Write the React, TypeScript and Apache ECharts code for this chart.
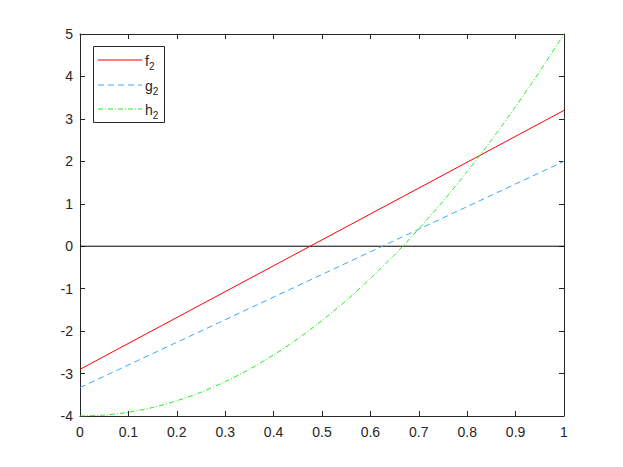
import React, { useEffect, useRef } from "react";
import * as echarts from "echarts";

const xTicks = [0, 0.1, 0.2, 0.3, 0.4, 0.5, 0.6, 0.7, 0.8, 0.9, 1];
const fX = [0, 1];
const fY = [-2.9, 3.2];
const gX = [0, 1];
const gY = [-3.33, 2.0];
const hX = [0, 0.05, 0.1, 0.15, 0.2, 0.25, 0.3, 0.35, 0.4, 0.45, 0.5, 0.55, 0.6, 0.65, 0.7, 0.75, 0.8, 0.85, 0.9, 0.95, 1];
const hY = [-4, -3.98, -3.91, -3.8, -3.64, -3.44, -3.19, -2.9, -2.56, -2.18, -1.75, -1.28, -0.76, -0.2, 0.41, 1.06, 1.76, 2.5, 3.29, 4.12, 5];
const zeroX = [0, 1];
const zeroY = [0, 0];
const seriesNames = ["f", "g", "h"];
const seriesColors = ["#ff0000", "#3ba8ff", "#22ee22"];

const AX = "#262626";
const FONT = "Liberation Sans";

function pairs(xs: number[], ys: number[]) {
  return xs.map((x, i) => [x, ys[i]]);
}

export default function App() {
  const ref = useRef<HTMLDivElement>(null);
  useEffect(() => {
    if (!ref.current) return;
    const chart = echarts.init(ref.current, undefined, { renderer: "svg" });
    const axisCommon = {
      axisLine: { show: true, onZero: false, lineStyle: { color: AX, width: 1 } },
      axisTick: { show: true, inside: true, length: 5, lineStyle: { color: AX } },
      splitLine: { show: false },
    };
    const dashes: any[] = ["solid", [6, 4], [5, 2, 1, 2]];
    const legendY = [60, 85, 109];
    const legendGraphics: any[] = [
      {
        type: "rect",
        shape: { x: 93.5, y: 46.5, width: 71, height: 76 },
        style: { fill: "#fff", stroke: AX, lineWidth: 1 },
        z: 100,
      },
    ];
    seriesNames.forEach((n, i) => {
      legendGraphics.push({
        type: "line",
        shape: { x1: 98, y1: legendY[i], x2: 142, y2: legendY[i] },
        style: { stroke: seriesColors[i], lineWidth: 1, lineDash: dashes[i] === "solid" ? null : dashes[i] },
        z: 101,
      });
      legendGraphics.push({
        type: "text",
        x: 145,
        y: legendY[i] - 9,
        style: {
          text: `{m|${n}}{s|2}`,
          rich: {
            m: { fontFamily: FONT, fontSize: 14, fill: AX },
            s: { fontFamily: FONT, fontSize: 10, fill: AX, padding: [10, 0, 0, 0] },
          },
        },
        z: 101,
      });
    });
    chart.setOption({
      animation: false,
      backgroundColor: "#fff",
      grid: { left: 80, right: 59, top: 34, bottom: 51 },
      xAxis: [
        {
          type: "value",
          min: 0,
          max: 1,
          interval: 0.1,
          position: "bottom",
          ...axisCommon,
          axisLabel: {
            color: AX,
            fontFamily: FONT,
            fontSize: 14,
            margin: 9,
            formatter: (v: number) => {
              const t = xTicks.find((x) => Math.abs(x - v) < 1e-9);
              return t === undefined ? "" : String(t);
            },
          },
        },
        {
          type: "value",
          min: 0,
          max: 1,
          interval: 0.1,
          position: "top",
          ...axisCommon,
          axisLabel: { show: false },
        },
      ],
      yAxis: [
        {
          type: "value",
          min: -4,
          max: 5,
          interval: 1,
          position: "left",
          ...axisCommon,
          axisLabel: { color: AX, fontFamily: FONT, fontSize: 14, margin: 7 },
        },
        {
          type: "value",
          min: -4,
          max: 5,
          interval: 1,
          position: "right",
          ...axisCommon,
          axisLabel: { show: false },
        },
      ],
      series: [
        {
          name: "zero",
          type: "line",
          data: pairs(zeroX, zeroY),
          showSymbol: false,
          symbol: "none",
          lineStyle: { color: "#000", width: 1 },
          z: 1,
        },
        {
          name: "f2",
          type: "line",
          data: pairs(fX, fY),
          symbol: "none",
          lineStyle: { color: seriesColors[0], width: 1, type: "solid" },
          z: 2,
        },
        {
          name: "g2",
          type: "line",
          data: pairs(gX, gY),
          symbol: "none",
          lineStyle: { color: seriesColors[1], width: 1, type: [6, 4] },
          z: 3,
        },
        {
          name: "h2",
          type: "line",
          data: pairs(hX, hY),
          symbol: "none",
          smooth: 0.3,
          lineStyle: { color: seriesColors[2], width: 1, type: [5, 2, 1, 2] },
          z: 4,
        },
      ],
      graphic: legendGraphics,
    });
    return () => chart.dispose();
  }, []);
  return (
    <div
      ref={ref}
      style={{ position: "fixed", left: 0, top: 0, width: 623, height: 467, background: "#fff" }}
    />
  );
}
